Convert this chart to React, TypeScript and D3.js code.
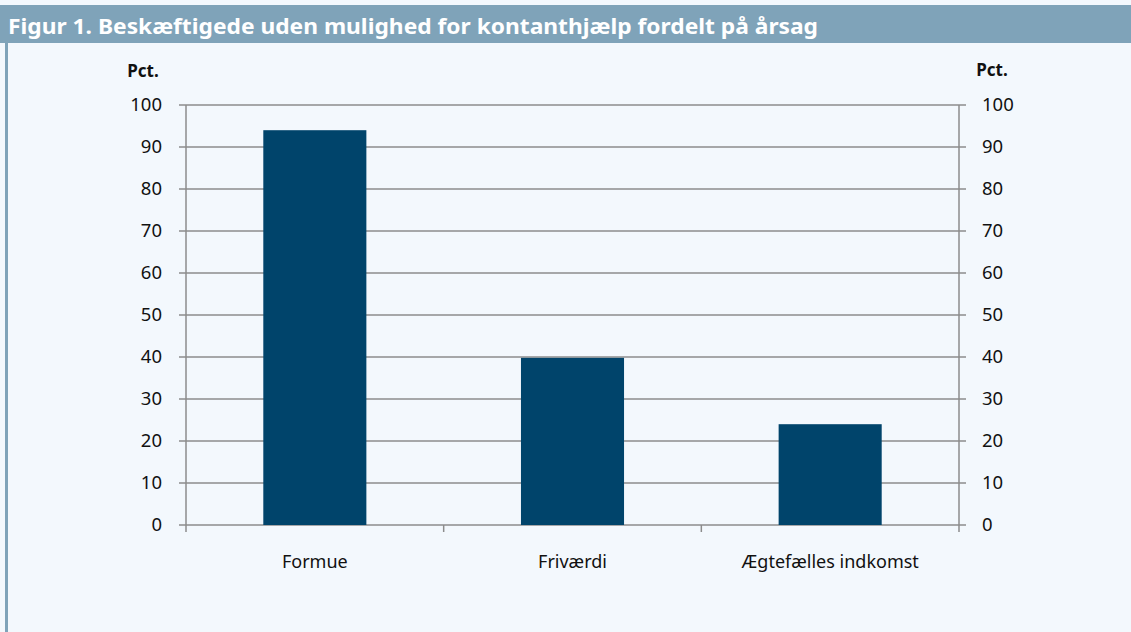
import React, {useEffect, useRef} from 'react'
import * as d3 from 'd3'

// Figur 1 - andel (pct.) fordelt på årsag
const categories = ['Formue', 'Friværdi', 'Ægtefælles indkomst']
const values = [94, 39.8, 24]
const yTicks = [0, 10, 20, 30, 40, 50, 60, 70, 80, 90, 100]
const title = 'Figur 1. Beskæftigede uden mulighed for kontanthjælp fordelt på årsag'

const W = 1131
const H = 632

export default function App() {
    const svgRef = useRef<SVGSVGElement>(null)

    useEffect(() => {
        const svg = d3.select(svgRef.current)
        svg.selectAll('*').remove()

        const font = '"Noto Sans", "Open Sans", sans-serif'
        const margin = {top: 105, right: 172, bottom: 107, left: 186}
        const width = W - margin.left - margin.right
        const height = H - margin.top - margin.bottom

        // background + title bar
        svg.append('rect').attr('width', W).attr('height', H).attr('fill', '#f3f8fd')
        svg.append('rect').attr('x', 0).attr('y', 5).attr('width', W).attr('height', 38).attr('fill', '#7fa3b9')
        svg.append('rect').attr('x', 5).attr('y', 43).attr('width', 3).attr('height', H - 43).attr('fill', '#7fa3b9')
        svg.append('text')
            .attr('x', 8).attr('y', 34)
            .attr('fill', '#ffffff')
            .attr('font-family', font).attr('font-weight', 'bold').attr('font-size', 21)
            .attr('textLength', 810).attr('lengthAdjust', 'spacingAndGlyphs')
            .text(title)

        const g = svg.append('g').attr('transform', `translate(${margin.left},${margin.top})`)

        const x = d3.scaleBand<string>().domain(categories).range([0, width]).paddingInner(0.6).paddingOuter(0.3)
        const y = d3.scaleLinear().domain([0, 100]).range([height, 0])

        // gridlines
        g.selectAll('line.grid').data(yTicks).join('line')
            .attr('class', 'grid')
            .attr('x1', -7).attr('x2', width + 7)
            .attr('y1', d => y(d)).attr('y2', d => y(d))
            .attr('stroke', '#8c8c8c').attr('stroke-width', 1.5)

        // axes lines
        g.append('line').attr('x1', 0).attr('x2', 0).attr('y1', 0).attr('y2', height + 7)
            .attr('stroke', '#8c8c8c').attr('stroke-width', 1.5)
        g.append('line').attr('x1', width).attr('x2', width).attr('y1', 0).attr('y2', height + 7)
            .attr('stroke', '#8c8c8c').attr('stroke-width', 1.5)

        // category ticks
        const step = x.step()
        g.selectAll('line.ctick').data(d3.range(1, categories.length)).join('line')
            .attr('class', 'ctick')
            .attr('x1', d => d * step).attr('x2', d => d * step)
            .attr('y1', height).attr('y2', height + 7)
            .attr('stroke', '#8c8c8c').attr('stroke-width', 1.5)

        // bars
        g.selectAll('rect.bar').data(values).join('rect')
            .attr('class', 'bar')
            .attr('x', (d, i) => x(categories[i]) as number)
            .attr('y', d => y(d))
            .attr('width', x.bandwidth())
            .attr('height', d => height - y(d))
            .attr('fill', '#00446b')

        // tick labels
        g.selectAll('text.yl').data(yTicks).join('text')
            .attr('class', 'yl')
            .attr('x', -24).attr('y', d => y(d)).attr('dy', '0.35em')
            .attr('text-anchor', 'end')
            .attr('font-family', font).attr('font-size', 18.5).attr('fill', '#111')
            .text(d => d)
        g.selectAll('text.yr').data(yTicks).join('text')
            .attr('class', 'yr')
            .attr('x', width + 23).attr('y', d => y(d)).attr('dy', '0.35em')
            .attr('font-family', font).attr('font-size', 18.5).attr('fill', '#111')
            .text(d => d)

        g.append('text').attr('x', -43).attr('y', -28).attr('text-anchor', 'middle')
            .attr('font-family', font).attr('font-weight', 'bold').attr('font-size', 17).attr('fill', '#111')
            .text('Pct.')
        g.append('text').attr('x', width + 33).attr('y', -29).attr('text-anchor', 'middle')
            .attr('font-family', font).attr('font-weight', 'bold').attr('font-size', 17).attr('fill', '#111')
            .text('Pct.')

        g.selectAll('text.cat').data(categories).join('text')
            .attr('class', 'cat')
            .attr('x', d => (x(d) as number) + x.bandwidth() / 2)
            .attr('y', height + 43)
            .attr('text-anchor', 'middle')
            .attr('font-family', font).attr('font-size', 18).attr('fill', '#111')
            .text(d => d)
    }, [])

    return (
        <svg ref={svgRef} width={W} height={H}
             style={{position: 'absolute', left: 0, top: 0, display: 'block'}} />
    )
}
